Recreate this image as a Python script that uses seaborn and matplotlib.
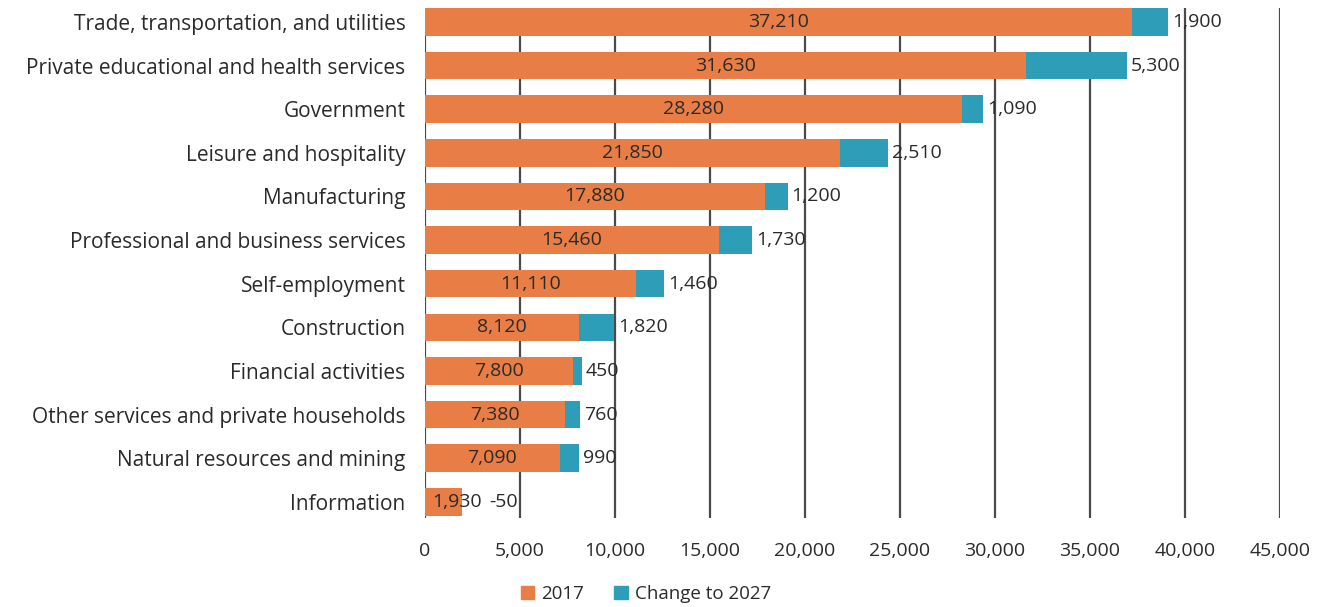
import matplotlib
matplotlib.use("Agg")
import matplotlib.pyplot as plt
import seaborn as sns
import pandas as pd
from matplotlib.patches import Patch

categories = [
    "Trade, transportation, and utilities",
    "Private educational and health services",
    "Government",
    "Leisure and hospitality",
    "Manufacturing",
    "Professional and business services",
    "Self-employment",
    "Construction",
    "Financial activities",
    "Other services and private households",
    "Natural resources and mining",
    "Information",
]
jobs_2017 = [37210, 31630, 28280, 21850, 17880, 15460, 11110, 8120, 7800, 7380, 7090, 1930]
change_2027 = [1900, 5300, 1090, 2510, 1200, 1730, 1460, 1820, 450, 760, 990, -50]
x_ticks = [0, 5000, 10000, 15000, 20000, 25000, 30000, 35000, 40000, 45000]

ORANGE = "#E87D45"
TEAL = "#2E9DB8"
TEXT = "#2a2a2a"

sns.set_theme(style="white")
plt.rcParams["font.family"] = ["Open Sans", "DejaVu Sans"]
plt.rcParams["text.color"] = TEXT

df = pd.DataFrame({
    "category": categories,
    "y2017": jobs_2017,
    "change": change_2027,
})
df["total"] = df["y2017"] + df["change"]

fig = plt.figure(figsize=(13.24, 6.07), dpi=100)
ax = fig.add_axes([425 / 1324, 89 / 607, 855 / 1324, 510 / 607])

# vertical gridlines behind the bars
for t in x_ticks:
    ax.axvline(t, color="#4a4a4a", lw=1.6, zorder=0)

sns.barplot(data=df, x="total", y="category", color=TEAL, width=0.63,
            saturation=1, linewidth=0, ax=ax, zorder=2)
sns.barplot(data=df, x="y2017", y="category", color=ORANGE, width=0.63,
            saturation=1, linewidth=0, ax=ax, zorder=3)

FS = 14
for i, row in df.iterrows():
    v, c = row["y2017"], row["change"]
    small = v < 5000
    ax.text(v / 2 + (700 if small else 0), i, f"{v:,}", ha="center", va="center",
            fontsize=FS, color=TEXT, zorder=4)
    end = max(v, v + c)
    ax.annotate(f"{c:,}", (end, i), xytext=(20 if small else 3, 0),
                textcoords="offset points", ha="left", va="center",
                fontsize=FS, color=TEXT, zorder=4)

ax.set_xlim(0, 45000)
ax.set_ylim(11.37, -0.32)
ax.set_xticks(x_ticks)
ax.set_xticklabels([f"{t:,}" for t in x_ticks], fontsize=FS, color=TEXT)
ax.tick_params(axis="y", labelsize=15, labelcolor=TEXT, length=0, pad=14)
ax.tick_params(axis="x", length=0, pad=17)
ax.set_xlabel("")
ax.set_ylabel("")
for s in ax.spines.values():
    s.set_visible(False)

handles = [Patch(color=ORANGE, label="2017"), Patch(color=TEAL, label="Change to 2027")]
fig.legend(handles=handles, loc="lower center", bbox_to_anchor=(0.488, -0.022),
           ncol=2, frameon=False, fontsize=13.5, handlelength=0.7,
           handleheight=0.7, handletextpad=0.4, columnspacing=1.6)

fig.savefig("out.png", dpi=100)
